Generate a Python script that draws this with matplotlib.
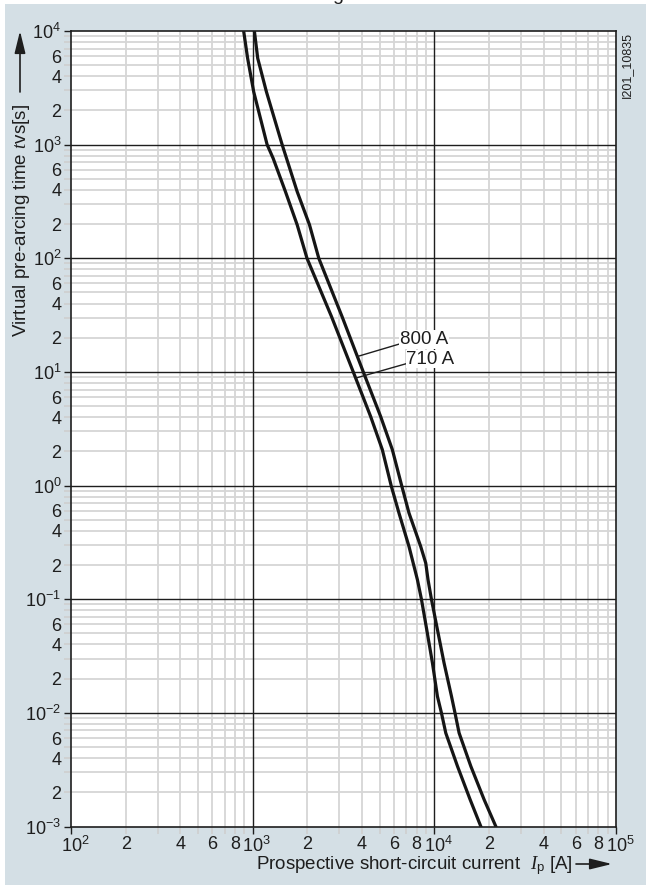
import matplotlib
matplotlib.use("Agg")
import math
import matplotlib.pyplot as plt
from matplotlib.patches import Rectangle
from matplotlib.transforms import ScaledTranslation

plt.rcParams['font.family'] = ['Liberation Sans', 'DejaVu Sans']
plt.rcParams['mathtext.fontset'] = 'custom'
plt.rcParams['mathtext.rm'] = 'Liberation Sans'
plt.rcParams['mathtext.it'] = 'Liberation Serif:italic'

# ---- data ----
current_710 = [892, 938, 1013, 1201, 1296, 1515, 1758, 1991, 2716, 3579, 4459, 5172,
               5784, 6388, 7253, 8069, 8491, 9082, 9761, 10400, 10940, 11560, 13410,
               15740, 18030]
time_710 = [10000, 5754, 2924, 1000, 759, 386, 197, 100, 30.7, 10, 4.06, 2.07,
            1.0, 0.573, 0.291, 0.1485, 0.1, 0.054, 0.0275, 0.01397, 0.01, 0.00665,
            0.00339, 0.001726, 0.001]

current_800 = [1022, 1066, 1190, 1453, 1758, 2055, 2312, 3105, 4064, 5062, 5873,
               6610, 7253, 8414, 8969, 9232, 9638, 10400, 11310, 12430, 12990, 13690,
               15880, 18790, 21810]
time_800 = [10000, 5754, 2924, 1000, 386, 197, 100, 30.7, 10, 4.06, 2.07,
            1.0, 0.573, 0.291, 0.208, 0.1485, 0.1, 0.054, 0.0275, 0.01397, 0.01,
            0.00665, 0.00339, 0.001726, 0.001]

curve_labels = ['800 A', '710 A']
label_anchor = [(3766, 13.66), (3686, 8.82)]     # point on curve
label_text_pos = [(6388, 17.56), (6957, 11.78)]  # leader end / text start

x_decades = [100, 1000, 10000, 100000]
y_decades = [1e-3, 1e-2, 1e-1, 1e0, 1e1, 1e2, 1e3, 1e4]
x_minor_labelled = [2, 4, 6, 8]
y_minor_labelled = [2, 4, 6]

W, H = 646, 885
BG = '#d4dfe5'
INK = '#1e1e1e'

fig = plt.figure(figsize=(W / 100, H / 100), dpi=100)
fig.patch.set_facecolor('white')
fig.add_artist(Rectangle((5 / W, 0), 1 - 5 / W, 1 - 4 / H, transform=fig.transFigure,
                         facecolor=BG, edgecolor='none', zorder=0))
fig.text(338 / W, 1.0, 'g', fontsize=14, ha='center', va='baseline', color=INK)

left, right, top, bottom = 71, 616, 31, 826.5
ax = fig.add_axes([left / W, 1 - bottom / H, (right - left) / W, (bottom - top) / H])
ax.set_facecolor('white')
ax.set_xscale('log')
ax.set_yscale('log')
ax.set_xlim(1e2, 1e5)
ax.set_ylim(1e-3, 1e4)


def sup(v):
    return r'$\mathregular{10^{%d}}$' % round(math.log10(v))


ax.set_xticks(x_decades)
ax.set_xticklabels([sup(v) for v in x_decades])
xminor, xminor_lab = [], []
for d in x_decades[:-1]:
    for k in range(2, 10):
        xminor.append(k * d)
        xminor_lab.append(str(k) if k in x_minor_labelled else '')
ax.set_xticks(xminor, minor=True)
ax.set_xticklabels(xminor_lab, minor=True)

ax.set_yticks(y_decades)
ax.set_yticklabels([sup(v) for v in y_decades])
yminor, yminor_lab = [], []
for d in y_decades[:-1]:
    for k in range(2, 10):
        yminor.append(k * d)
        yminor_lab.append(str(k) if k in y_minor_labelled else '')
ax.set_yticks(yminor, minor=True)
ax.set_yticklabels(yminor_lab, minor=True)

ax.tick_params(which='both', direction='out', labelsize=13, colors=INK)
ax.tick_params(which='major', length=5, width=1.0, color=INK, pad=2)
ax.tick_params(which='minor', length=5, width=1.2, color='#cfcfcf', pad=2)

# shift decade labels on x so that "10" sits centred on its tick
shift = ScaledTranslation(4 / 100, 0, fig.dpi_scale_trans)
for lab in ax.get_xticklabels():
    lab.set_transform(lab.get_transform() + shift)

ax.grid(which='minor', color='#d6d6d6', lw=1.3, zorder=0)
ax.grid(which='major', visible=False)
for v in x_decades[1:-1]:
    ax.axvline(v, color=INK, lw=1.0, zorder=1.5)
for v in y_decades[1:-1]:
    ax.axhline(v, color=INK, lw=1.0, zorder=1.5)
ax.set_axisbelow(True)
for s in ax.spines.values():
    s.set_color(INK)
    s.set_linewidth(1.2)
    s.set_zorder(6)

ax.plot(current_710, time_710, color='#151515', lw=2.3, zorder=3,
        solid_joinstyle='round')
ax.plot(current_800, time_800, color='#151515', lw=2.3, zorder=3,
        solid_joinstyle='round')

for lab, a, t in zip(curve_labels, label_anchor, label_text_pos):
    ax.plot([a[0], t[0]], [a[1], t[1]], color=INK, lw=1.0, zorder=4)
    ax.text(t[0] * 1.01, t[1] * 1.10, lab, fontsize=13.5, ha='left', va='center',
            color=INK, zorder=5,
            bbox=dict(facecolor='white', edgecolor='none', pad=0.5))

# axis titles
fig.text(22 / W, 1 - 220 / H, r'Virtual pre-arcing time $\it{t}$vs[s]', rotation=90,
         fontsize=13.5, ha='center', va='center', color=INK)
fig.text(256 / W, 1 - 866 / H,
         r'Prospective short-circuit current  $\mathit{I}_{\mathregular{p}}$ [A]',
         fontsize=13.5, ha='left', va='center', color=INK)

arrow = dict(arrowstyle='-|>,head_length=0.9,head_width=0.22', lw=1.2, color=INK,
             mutation_scale=15, shrinkA=0, shrinkB=0)
ax.annotate('', xy=(20 / W, 1 - 31 / H), xytext=(20 / W, 1 - 92 / H),
            xycoords='figure fraction', textcoords='figure fraction', arrowprops=arrow)
ax.annotate('', xy=(612 / W, 1 - 864 / H), xytext=(576 / W, 1 - 864 / H),
            xycoords='figure fraction', textcoords='figure fraction', arrowprops=arrow)

fig.text(627 / W, 1 - 32 / H, 'I201_10835', rotation=90, fontsize=9, ha='center',
         va='top', color=INK)

fig.savefig('out.png', dpi=100, facecolor=fig.get_facecolor())
